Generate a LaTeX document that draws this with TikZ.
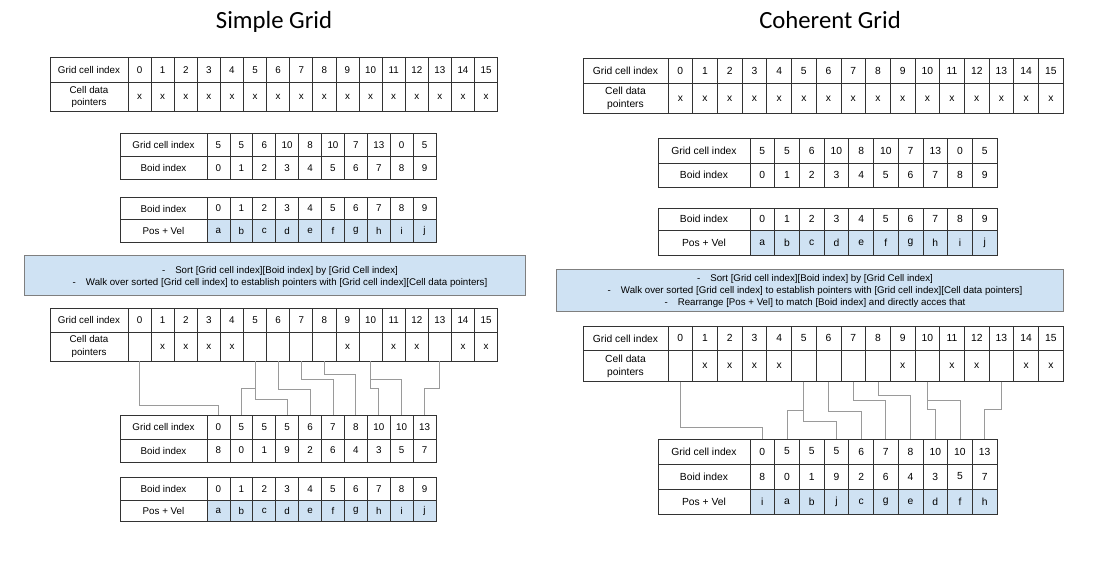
\documentclass[tikz,border=0pt]{standalone}
\usepackage{fontspec}
\setmainfont{Liberation Sans}
\newfontfamily\titlefont{Carlito}
\definecolor{cellblue}{HTML}{CFE2F3}
\definecolor{linegray}{HTML}{9A9A9A}
\definecolor{bordergray}{HTML}{333333}
\definecolor{bannerborder}{HTML}{7F7F7F}
\newcommand{\lfont}{\fontsize{9.8}{12.5}\selectfont}
\newcommand{\rfont}{\fontsize{10.3}{12.8}\selectfont}
\tikzset{
  cellbox/.style={draw=bordergray, line width=0.8pt, inner sep=0pt, outer sep=0pt, align=center, anchor=north west},
  posfill/.style={fill=cellblue},
  conn/.style={draw=linegray, line width=0.9pt},
  banner/.style={draw=bannerborder, fill=cellblue, line width=0.9pt, inner sep=0pt, outer sep=0pt, anchor=north west},
  bannertext/.style={align=center, inner sep=0pt},
  titletext/.style={font=\titlefont\fontsize{24.7}{28}\selectfont, anchor=base, inner sep=0pt}
}
% #1 name, #2 x0, #3 ytop, #4 height, #5 label width, #6 label, #7 cell width, #8 values
\newcommand{\trow}[8]{%
  \node[cellbox, minimum width=#5pt, minimum height=#4pt] (#1-l) at (#2,#3) {#6};
  \foreach \v [count=\i from 0] in {#8} {
    \node[cellbox, minimum width=#7pt, minimum height=#4pt] (#1-\i) at ({#2+#5+\i*#7},#3) {\v};
  }
}
\newcommand{\trowfill}[8]{%
  \node[cellbox, minimum width=#5pt, minimum height=#4pt] (#1-l) at (#2,#3) {#6};
  \foreach \v [count=\i from 0] in {#8} {
    \node[cellbox, posfill, minimum width=#7pt, minimum height=#4pt] (#1-\i) at ({#2+#5+\i*#7},#3) {\v};
  }
}
\begin{document}
\begin{tikzpicture}[x=1pt, y=-1pt]
\useasboundingbox[fill=white] (0,0) rectangle (1112,565);

% titles
\node[titletext] (t1) at (274,28) {Simple Grid};
\node[titletext] (t2) at (830,28) {Coherent Grid};

% ---------------- left side ----------------
\begin{scope}[cellbox/.append style={font=\lfont}]
\trow{L1a}{50}{57.5}{25}{78}{Grid cell index}{23.1}{0,...,15}
\trow{L1b}{50}{82.5}{29}{78}{Cell data\\pointers}{23.1}{x,x,x,x,x,x,x,x,x,x,x,x,x,x,x,x}

\trow{L2a}{120}{133}{23.5}{87}{Grid cell index}{22.9}{5,5,6,10,8,10,7,13,0,5}
\trow{L2b}{120}{156.5}{22.5}{87}{Boid index}{22.9}{0,...,9}

\trow{L3a}{120}{197.5}{22}{87}{Boid index}{22.9}{0,...,9}
\trowfill{L3b}{120}{219.5}{22.5}{87}{Pos + Vel}{22.9}{a,b,c,d,e,f,g,h,i,j}

\trow{L4a}{50}{308.3}{24}{78}{Grid cell index}{23.1}{0,...,15}
\trow{L4b}{50}{332.3}{28.7}{78}{Cell data\\pointers}{23.1}{{},x,x,x,x,{},{},{},{},x,{},x,x,{},x,x}

\trow{L5a}{120}{415}{24}{87}{Grid cell index}{22.9}{0,5,5,5,6,7,8,10,10,13}
\trow{L5b}{120}{439}{23}{87}{Boid index}{22.9}{8,0,1,9,2,6,4,3,5,7}

\trow{L6a}{120}{477.7}{23}{87}{Boid index}{22.9}{0,...,9}
\trowfill{L6b}{120}{500.7}{21}{87}{Pos + Vel}{22.9}{a,b,c,d,e,f,g,h,i,j}
\end{scope}

\node[banner, minimum width=501pt, minimum height=40pt] (LB) at (24,255) {};
\node[bannertext, font=\fontsize{9.7}{12}\selectfont] (LBt) at (280,277)
  {-\hspace{10pt}Sort [Grid cell index][Boid index] by [Grid Cell index]\\
   -\hspace{10pt}Walk over sorted [Grid cell index] to establish pointers with [Grid cell index][Cell data pointers]};

\draw[conn] (L4b-0.south) -- (L4b-0.south |- 0,405) -| (L5a-0.north);
\draw[conn] (L4b-5.south) -- (L4b-5.south |- 0,388) -| (L5a-1.north);
\draw[conn] (L4b-5.south) -- (L4b-5.south |- 0,399) -| (L5a-3.north);
\draw[conn] (L4b-6.south) -- (L4b-6.south |- 0,389.3) -| (L5a-4.north);
\draw[conn] (L4b-7.south) -- (L4b-7.south |- 0,379.3) -| (L5a-5.north);
\draw[conn] (L4b-8.south) -- (L4b-8.south |- 0,374) -| (L5a-6.north);
\draw[conn] (L4b-10.south) -- (L4b-10.south |- 0,388.3) -| (L5a-7.north);
\draw[conn] (L4b-10.south) -- (L4b-10.south |- 0,379) -| (L5a-8.north);
\draw[conn] (L4b-13.south) -- (L4b-13.south |- 0,388) -| (L5a-9.north);

% ---------------- right side ----------------
\begin{scope}[cellbox/.append style={font=\rfont}]
\trow{R1a}{583}{58.3}{25}{85}{Grid cell index}{24.7}{0,...,15}
\trow{R1b}{583}{83.3}{30}{85}{Cell data\\pointers}{24.7}{x,x,x,x,x,x,x,x,x,x,x,x,x,x,x,x}

\trow{R2a}{658}{138.3}{25}{92}{Grid cell index}{24.7}{5,5,6,10,8,10,7,13,0,5}
\trow{R2b}{658}{163.3}{23.7}{92}{Boid index}{24.7}{0,...,9}

\trow{R3a}{658}{208.3}{21.7}{92}{Boid index}{24.7}{0,...,9}
\trowfill{R3b}{658}{230}{25}{92}{Pos + Vel}{24.7}{a,b,c,d,e,f,g,h,i,j}

\trow{R4a}{583}{326}{24.7}{85}{Grid cell index}{24.7}{0,...,15}
\trow{R4b}{583}{350.7}{31}{85}{Cell data\\pointers}{24.7}{{},x,x,x,x,{},{},{},{},x,{},x,x,{},x,x}

\trow{R5a}{658}{439}{25}{92}{Grid cell index}{24.7}{0,5,5,5,6,7,8,10,10,13}
\trow{R5b}{658}{464}{25}{92}{Boid index}{24.7}{8,0,1,9,2,6,4,3,5,7}
\trowfill{R5c}{658}{489}{25}{92}{Pos + Vel}{24.7}{i,a,b,j,c,g,e,d,f,h}
\end{scope}

\node[banner, minimum width=507pt, minimum height=42pt] (RB) at (556,269) {};
\node[bannertext, font=\fontsize{9.7}{12.3}\selectfont] (RBt) at (815,291)
  {-\hspace{10pt}Sort [Grid cell index][Boid index] by [Grid Cell index]\\
   -\hspace{10pt}Walk over sorted [Grid cell index] to establish pointers with [Grid cell index][Cell data pointers]\\
   -\hspace{10pt}Rearrange [Pos + Vel] to match [Boid index] and directly acces that};

\draw[conn] (R4b-0.south) -- (R4b-0.south |- 0,427.3) -| (R5a-0.north);
\draw[conn] (R4b-5.south) -- (R4b-5.south |- 0,410.7) -| (R5a-1.north);
\draw[conn] (R4b-5.south) -- (R4b-5.south |- 0,421.7) -| (R5a-3.north);
\draw[conn] (R4b-6.south) -- (R4b-6.south |- 0,411.7) -| (R5a-4.north);
\draw[conn] (R4b-7.south) -- (R4b-7.south |- 0,400) -| (R5a-5.north);
\draw[conn] (R4b-8.south) -- (R4b-8.south |- 0,395) -| (R5a-6.north);
\draw[conn] (R4b-10.south) -- (R4b-10.south |- 0,409.3) -| (R5a-7.north);
\draw[conn] (R4b-10.south) -- (R4b-10.south |- 0,400) -| (R5a-8.north);
\draw[conn] (R4b-13.south) -- (R4b-13.south |- 0,409.3) -| (R5a-9.north);
\end{tikzpicture}
\end{document}
